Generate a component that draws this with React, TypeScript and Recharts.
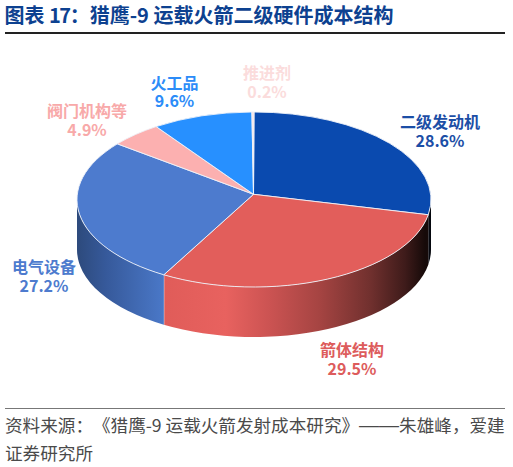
import React from "react";
import { PieChart, Pie } from "recharts";

const categories = ["二级发动机", "箭体结构", "电气设备", "阀门机构等", "火工品", "推进剂"];
const shares = [28.6, 29.5, 27.2, 4.9, 9.6, 0.2];
const rows = categories.map((name, i) => ({ name, value: shares[i] }));

const FONT = '"Noto Sans CJK SC", "Noto Sans", sans-serif';
const topColors = ["#0a4aaf", "#e25e5b", "#4d7bce", "#fcb0b0", "#2790ff", "#fde0e0"];
const labelColors = ["#1c4ea6", "#dd5c5c", "#4d7bce", "#f8a9a9", "#2c8cf8", "#fbdcdc"];
const labelPos = [
  [440, 120.5, 139.5],
  [352, 349, 368],
  [44, 266, 285],
  [87, 110, 129],
  [174.5, 82, 100],
  [267, 72, 91],
];
const wallStops: [number, string][][] = [
  [[0.95, "#1a2a4a"], [1, "#05070c"]],
  [[0.246, "#e05c59"], [0.42, "#e8625f"], [0.545, "#cb5352"], [0.686, "#a54442"], [0.83, "#70302e"], [0.927, "#3e1b1a"], [0.983, "#160a09"]],
  [[0, "#2d4a7c"], [0.08, "#36599a"], [0.246, "#4a78c8"]],
  [[0, "#888"]],
  [[0, "#888"]],
  [[0, "#888"]],
];

const CX = 254;
const CY = 199.5;
const RX = 177;
const RY = 87.5;
const DEPTH = 50;
const APEX_LIFT = 5.2;
const rad = Math.PI / 180;

// perspective of the tilted disc: clockwise angle from 12 o'clock as seen on the ellipse
const warp = (t: number) => t - 3 * Math.sin(t * rad);
const rimX = (t: number, cx: number) => cx + RX * Math.sin(t * rad);
const rimY = (t: number, cy: number, shift = 0) => cy - RY * Math.cos(t * rad) + shift;

const TopSlice = (p: any) => {
  const a = warp(90 - p.startAngle);
  const b = warp(90 - p.endAngle);
  const large = b - a > 180 ? 1 : 0;
  const d = `M${p.cx - 0.5},${p.cy - APEX_LIFT} L${rimX(a, p.cx)},${rimY(a, p.cy)} A${RX},${RY} 0 ${large} 1 ${rimX(b, p.cx)},${rimY(b, p.cy)} Z`;
  return <path d={d} fill={topColors[p.index]} stroke="#eef2f8" strokeWidth={0.9} strokeLinejoin="round" />;
};

const WallSlice = (p: any) => {
  const a = Math.max(warp(90 - p.startAngle), 90);
  const b = Math.min(warp(90 - p.endAngle), 270);
  if (b <= a) return <g />;
  const id = `wall-${p.index}`;
  const d = `M${rimX(a, p.cx)},${rimY(a, p.cy)} A${RX},${RY} 0 0 1 ${rimX(b, p.cx)},${rimY(b, p.cy)} L${rimX(b, p.cx)},${rimY(b, p.cy, DEPTH)} A${RX},${RY} 0 0 0 ${rimX(a, p.cx)},${rimY(a, p.cy, DEPTH)} Z`;
  return (
    <g>
      <defs>
        <linearGradient id={id} gradientUnits="userSpaceOnUse" x1={p.cx - RX} x2={p.cx + RX} y1={0} y2={0}>
          {wallStops[p.index].map(([o, c]) => (
            <stop key={o} offset={o} stopColor={c} />
          ))}
        </linearGradient>
      </defs>
      <path d={d} fill={`url(#${id})`} />
      <line x1={rimX(b, p.cx)} y1={rimY(b, p.cy)} x2={rimX(b, p.cx)} y2={rimY(b, p.cy, DEPTH)} stroke="#dfe6f2" strokeWidth={p.index === 1 ? 0.9 : 0} />
    </g>
  );
};

const sliceLabel = (p: any) => {
  const [x, y1, y2] = labelPos[p.index];
  const c = labelColors[p.index];
  const common = { x, textAnchor: "middle" as const, dominantBaseline: "central" as const, fill: c, fontSize: 16, fontWeight: 700, fontFamily: FONT };
  return (
    <g key={p.index}>
      <text {...common} y={y1}>{p.name}</text>
      <text {...common} y={y2}>{`${p.value}%`}</text>
    </g>
  );
};

const page: React.CSSProperties = { position: "absolute", left: 0, top: 0, width: 513, height: 467, background: "#fff", overflow: "hidden", fontFamily: FONT };
const abs = (s: React.CSSProperties): React.CSSProperties => ({ position: "absolute", whiteSpace: "nowrap", ...s });
const sourceStyle: React.CSSProperties = { left: 5, fontSize: 17.6, lineHeight: "28px", color: "#4a4a4a", textSpacingTrim: "space-all" } as React.CSSProperties;

export default function App() {
  return (
    <div style={page}>
      <div style={abs({ left: 4.5, top: 1, fontSize: 20, lineHeight: "28px", fontWeight: 700, color: "#0d4190" })}>
        图表 <span style={{ letterSpacing: -1.5 }}>17</span>：猎鹰-9 运载火箭二级硬件成本结构
      </div>
      <div style={abs({ left: 5, top: 31.5, width: 500, height: 2, background: "#222" })} />
      <div style={{ position: "absolute", left: 0, top: 0 }}>
        <PieChart width={513} height={467} margin={{ top: 0, right: 0, bottom: 0, left: 0 }}>
          <Pie data={rows} dataKey="value" nameKey="name" cx={CX} cy={CY} outerRadius={RX} startAngle={90} endAngle={-270} stroke="none" shape={WallSlice} isAnimationActive={false} label={false} />
          <Pie data={rows} dataKey="value" nameKey="name" cx={CX} cy={CY} outerRadius={RX} startAngle={90} endAngle={-270} stroke="none" shape={TopSlice} isAnimationActive={false} label={sliceLabel} labelLine={false} />
        </PieChart>
      </div>
      <div style={abs({ left: 5, top: 407.5, width: 500, height: 1.5, background: "#777" })} />
      <div style={abs({ ...sourceStyle, top: 411 })}>
        资料来源：《猎鹰-9 运载火箭发射成本研究》<span style={{ fontFamily: '"Liberation Sans", sans-serif', fontSize: 20 }}>——</span>朱雄峰，爱建
      </div>
      <div style={abs({ ...sourceStyle, top: 439 })}>证券研究所</div>
    </div>
  );
}
